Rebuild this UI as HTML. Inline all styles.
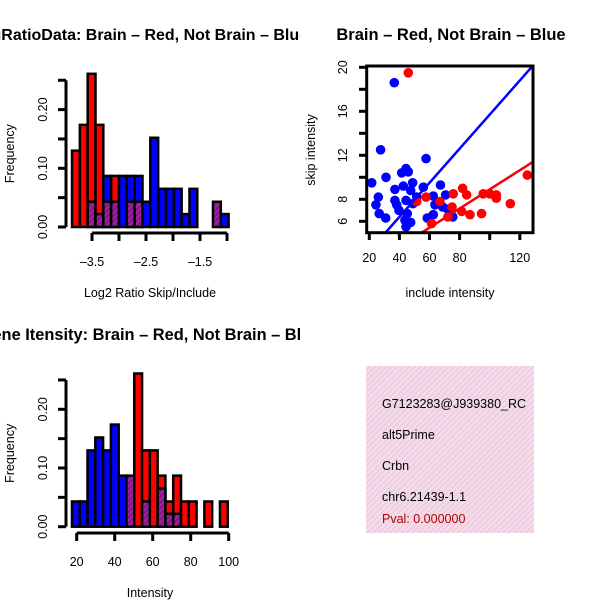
<!DOCTYPE html>
<html><head><meta charset="utf-8"><style>
html,body{margin:0;padding:0;background:#fff;}
svg{display:block;font-family:"Liberation Sans",sans-serif;}
</style></head><body>
<svg id="c" width="600" height="600" viewBox="0 0 600 600">
<defs>
<pattern id="hatch" patternUnits="userSpaceOnUse" width="4" height="4" patternTransform="rotate(45)">
<rect width="4" height="4" fill="#a020a0"/><rect width="1.5" height="4" fill="#7a1480"/></pattern>
<pattern id="pinkhatch" patternUnits="userSpaceOnUse" width="4" height="4" patternTransform="rotate(45)">
<rect width="4" height="4" fill="#f8d8f0"/><rect width="1" height="4" fill="#dcd0c8"/></pattern>
<clipPath id="clipL"><rect x="0" y="0" width="300" height="600"/></clipPath>
<clipPath id="clipS"><rect x="366.7" y="66" width="166.3" height="166.7"/></clipPath>
</defs>
<g id="tl"></g>
<g id="tr"></g>
<g id="bl"></g>
<g>
<rect x="366" y="366" width="168" height="167" fill="url(#pinkhatch)"/>
<g font-size="12.5" fill="#000">
<text x="382" y="408">G7123283@J939380_RC</text>
<text x="382" y="439">alt5Prime</text>
<text x="382" y="470">Crbn</text>
<text x="382" y="501">chr6.21439-1.1</text>
<text x="382" y="523" fill="#b00000">Pval: 0.000000</text>
</g>
<rect x="534" y="360" width="66" height="180" fill="#fff"/>
</g>
</svg>
<script>
// ---- top-left histogram data (log2 ratio) ----
const ratioBinStart = -3.87;
const ratioBinWidth = 0.145;
const ratioRed  = [0.130,0.174,0.261,0.174,0.043,0.087,0,0.043,0.043,0,0,0,0,0,0,0,0,0,0.043,0];
const ratioBlue = [0,0,0.043,0.022,0.087,0.043,0.087,0.087,0.087,0.043,0.152,0.065,0.065,0.065,0.022,0.065,0,0,0.043,0.022];
const ratioXTicks = [-3.5,-3.0,-2.5,-2.0,-1.5,-1.0];
const ratioXLabels = ["\u20133.5","","\u20132.5","","\u20131.5",""];
const freqTicks = [0,0.05,0.10,0.15,0.20,0.25];
const freqLabels = ["0.00","","0.10","","0.20",""];
// ---- bottom-left histogram data (intensity) ----
const intBinStart = 17.5;
const intBinWidth = 4.1;
const intRed  = [0,0,0,0,0,0,0,0.087,0.261,0.130,0.130,0.087,0.043,0.087,0.043,0.043,0,0.043,0,0.043];
const intBlue = [0.043,0.043,0.130,0.152,0.130,0.174,0.087,0.087,0,0.043,0,0.065,0.022,0.022,0,0,0,0,0,0];
const intXTicks = [20,40,60,80,100];
// ---- scatter data ----
const blueX = [21.6,36.6,27.5,31.1,26,24.4,26.6,30.9,37,37,38.2,39.7,42.6,41.5,44.4,45.9,48.8,47.5,44.4,45.2,43.7,44.4,47.5,51.5,55.9,57.7,58.5,62.5,63.6,62.5,67.3,70.7,68.8,72.2,75.5,74,49];
const blueY = [9.5,18.6,12.5,10.0,8.2,7.5,6.7,6.3,8.9,7.9,7.5,7.0,9.2,10.4,10.8,10.5,9.5,8.8,7.9,6.7,6.1,5.5,5.9,8.2,9.1,11.7,6.3,8.3,7.5,6.6,9.3,8.4,7.3,7.1,6.4,6.7,7.6];
const redX = [45.9,51.5,57.7,61.4,67,72.2,75.8,82,84.7,81.4,86.9,94.6,95.7,100,104.4,104.4,113.7,125,75];
const redY = [19.5,7.8,8.2,5.8,7.8,6.4,8.5,9.0,8.4,6.9,6.6,6.7,8.5,8.5,8.4,8.1,7.6,10.2,7.3];
const fitSlopes = [0.155,0.087];
const fitIntercepts = [0.2,0.2];
const scatterXTicks = [20,40,60,80,100,120];
const scatterXLabels = ["20","40","60","80","","120"];
const scatterYTicks = [6,8,10,12,14,16,18,20];
const scatterYLabels = ["6","8","","12","","16","","20"];

const NS="http://www.w3.org/2000/svg";
function mk(tag,attrs,parent){const e=document.createElementNS(NS,tag);for(const k in attrs)e.setAttribute(k,attrs[k]);parent.appendChild(e);return e;}

function histogram(g,cfg){
  const xs=v=>cfg.x0px+(v-cfg.x0v)*cfg.pxPer;
  const ys=v=>cfg.y0px-v*cfg.yPer;
  const clip=mk('g',{'clip-path':'url(#clipL)'},g);
  const t=mk('text',{x:cfg.titleX,y:cfg.titleY,'text-anchor':'middle','font-size':cfg.titleSize,'font-weight':'bold'},clip);
  t.textContent=cfg.title;
  
  
  for(let i=0;i<cfg.red.length;i++){
    const xa=xs(cfg.binStart+i*cfg.binWidth), xb=xs(cfg.binStart+(i+1)*cfg.binWidth);
    const r=cfg.red[i], b=cfg.blue[i];
    const hi=Math.max(r,b), lo=Math.min(r,b);
    if(hi>0){
      const bar=mk('rect',{x:xa,y:ys(hi),width:xb-xa,height:ys(0)-ys(hi),fill:(r>b?'#ff0000':(b>r?'#0000ff':'url(#hatch)')),stroke:'#000','stroke-width':2.5},g);
      
      
    }
    if(lo>0&&r!==b){
      const ov=mk('rect',{x:xa,y:ys(lo),width:xb-xa,height:ys(0)-ys(lo),fill:'url(#hatch)',stroke:'#000','stroke-width':2.5},g);
      
      
    }
  }
  const ya=mk('line',{x1:66,x2:66,y1:ys(0),y2:ys(0.25),stroke:'#000','stroke-width':3},g);
  
  
  freqTicks.forEach((v,i)=>{
    mk('line',{x1:58,x2:66,y1:ys(v),y2:ys(v),stroke:'#000','stroke-width':3},g);
    if(freqLabels[i]){
      const l=mk('text',{x:0,y:0,transform:`translate(47,${ys(v)}) rotate(-90)`,'text-anchor':'middle','font-size':'12.5'},g);
      l.textContent=freqLabels[i];
      
      
    }
  });
  const yt=mk('text',{x:0,y:0,transform:`translate(14,${ys(0.125)}) rotate(-90)`,'text-anchor':'middle','font-size':'12.5'},g);
  yt.textContent='Frequency';
  
  
  const xt=cfg.xTicks;
  const xa=mk('line',{x1:xs(xt[0]),x2:xs(xt[xt.length-1]),y1:cfg.axisY,y2:cfg.axisY,stroke:'#000','stroke-width':3},g);
  
  
  xt.forEach((v,i)=>{
    mk('line',{x1:xs(v),x2:xs(v),y1:cfg.axisY,y2:cfg.axisY+8,stroke:'#000','stroke-width':3},g);
    if(cfg.xLabels[i]){
      const l=mk('text',{x:xs(v),y:cfg.axisY+33,'text-anchor':'middle','font-size':'12.5'},g);
      l.textContent=cfg.xLabels[i];
      
      
    }
  });
  const xl=mk('text',{x:150,y:cfg.axisY+64,'text-anchor':'middle','font-size':'12.5'},g);
  xl.textContent=cfg.xTitle;
  
  
}

histogram(document.getElementById('tl'),{
  title:'LogRatioData: Brain \u2013 Red, Not Brain \u2013 Blue',titleX:140,titleY:40,titleSize:'16',
  x0px:92,x0v:-3.5,pxPer:54,y0px:227,yPer:587,axisY:233,
  binStart:ratioBinStart,binWidth:ratioBinWidth,red:ratioRed,blue:ratioBlue,
  xTicks:ratioXTicks,xLabels:ratioXLabels,xTitle:'Log2 Ratio Skip/Include'});
histogram(document.getElementById('bl'),{
  title:'Gene Itensity: Brain \u2013 Red, Not Brain \u2013 Blue',titleX:150,titleY:340,titleSize:'16.4',
  x0px:76.7,x0v:20,pxPer:1.9,y0px:526.7,yPer:587,axisY:533,
  binStart:intBinStart,binWidth:intBinWidth,red:intRed,blue:intBlue,
  xTicks:intXTicks,xLabels:intXTicks.map(String),xTitle:'Intensity'});

(function(){
  const g=document.getElementById('tr');
  const xs=v=>369.3+(v-20)*1.505;
  const ys=v=>67.3+(20-v)*11.0;
  const t=mk('text',{x:451,y:40,'text-anchor':'middle','font-size':'16.5','font-weight':'bold'},g);
  t.textContent='Brain \u2013 Red, Not Brain \u2013 Blue';
  
  
  const pts=mk('g',{'clip-path':'url(#clipS)'},g);
  blueX.forEach((x,i)=>{
    const c=mk('circle',{cx:xs(x),cy:ys(blueY[i]),r:4.8,fill:'#0000ff'},pts);
    
    
  });
  redX.forEach((x,i)=>{
    const c=mk('circle',{cx:xs(x),cy:ys(redY[i]),r:4.8,fill:'#ff0000'},pts);
    
    
  });
  const cols=['#0000ff','#ff0000'];
  fitSlopes.forEach((s,i)=>{
    const x1=0,x2=140;
    const l=mk('line',{x1:xs(x1),y1:ys(fitIntercepts[i]+s*x1),x2:xs(x2),y2:ys(fitIntercepts[i]+s*x2),stroke:cols[i],'stroke-width':2.5},pts);
    
    
  });
  const box=mk('rect',{x:366.7,y:66,width:166.3,height:166.7,fill:'none',stroke:'#000','stroke-width':3},g);
  
  
  scatterXTicks.forEach((v,i)=>{
    mk('line',{x1:xs(v),x2:xs(v),y1:232.7,y2:240,stroke:'#000','stroke-width':3},g);
    if(scatterXLabels[i]){
      const l=mk('text',{x:xs(v),y:262,'text-anchor':'middle','font-size':'12.5'},g);
      l.textContent=scatterXLabels[i];
      
      
    }
  });
  scatterYTicks.forEach((v,i)=>{
    mk('line',{x1:359,x2:366.7,y1:ys(v),y2:ys(v),stroke:'#000','stroke-width':3},g);
    if(scatterYLabels[i]){
      const l=mk('text',{x:0,y:0,transform:`translate(347,${ys(v)}) rotate(-90)`,'text-anchor':'middle','font-size':'12.5'},g);
      l.textContent=scatterYLabels[i];
      
      
    }
  });
  const xl=mk('text',{x:450,y:297,'text-anchor':'middle','font-size':'12.5'},g);
  xl.textContent='include intensity';
  
  
  const yl=mk('text',{x:0,y:0,transform:'translate(315,150) rotate(-90)','text-anchor':'middle','font-size':'12.5'},g);
  yl.textContent='skip intensity';
  
  
})();
</script>
</body></html>
